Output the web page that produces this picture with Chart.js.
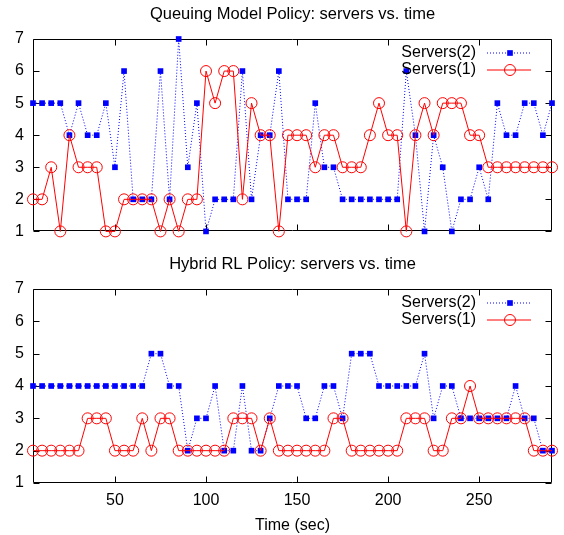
<!DOCTYPE html>
<html><head><meta charset="utf-8">
<script src="https://cdn.jsdelivr.net/npm/chart.js@4.4.0/dist/chart.umd.min.js"></script>
<style>html,body{margin:0;padding:0;background:#fff;} canvas{display:block;}</style>
</head><body>
<canvas id="c1" width="564" height="250"></canvas>
<canvas id="c2" width="564" height="285"></canvas>
<script>
const times = [5,10,15,20,25,30,35,40,45,50,55,60,65,70,75,80,85,90,95,100,
  105,110,115,120,125,130,135,140,145,150,155,160,165,170,175,180,185,190,195,200,
  205,210,215,220,225,230,235,240,245,250,255,260,265,270,275,280,285,290];
const queuingServers2 = [5,5,5,5,4,5,4,4,5,3, 6,2,2,2,6,2,7,3,5,1, 2,2,2,6,2,4,4,6,2,2,
  2,5,3,3,2,2,2,2,2,2, 2,6,4,1,4,3,1,2,2,3, 2,5,4,4,5,5,4,5];
const queuingServers1 = [2,2,3,1,4,3,3,3,1,1, 2,2,2,2,1,2,1,2,2,6, 5,6,6,2,5,4,4,1,4,4,
  4,3,4,4,3,3,3,4,5,4, 4,1,4,5,4,5,5,5,4,4, 3,3,3,3,3,3,3,3];
const hybridServers2 = [4,4,4,4,4,4,4,4,4,4, 4,4,4,5,5,4,4,2,3,3, 4,2,2,4,2,2,3,4,4,4,
  3,3,4,4,3,5,5,5,4,4, 4,4,4,5,3,4,4,3,3,3, 3,3,3,4,3,3,2,2];
const hybridServers1 = [2,2,2,2,2,2,3,3,3,2, 2,2,3,2,3,3,2,2,2,2, 2,2,3,3,3,2,3,2,2,2,
  2,2,2,3,3,2,2,2,2,2, 2,3,3,3,2,2,3,3,4,3, 3,3,3,3,3,2,2,2];
const xTickValues = [50,100,150,200,250];
const yTickValues = [1,2,3,4,5,6,7];
const seriesLabels = ['Servers(2)','Servers(1)'];
const chartTitles = ['Queuing Model Policy: servers vs. time','Hybrid RL Policy: servers vs. time'];
const xAxisTitle = 'Time (sec)';

const FONT = '"Liberation Sans", Arial, Helvetica, sans-serif';
Chart.defaults.font.family = FONT;
Chart.defaults.font.size = 16;
Chart.defaults.color = '#000';

const toXY = arr => arr.map((v,i)=>({x:times[i], y:v}));

const framePlugin = {
  id:'gpFrame',
  beforeDatasetsDraw(chart){
    const {ctx, chartArea:a, scales:{x,y}} = chart;
    const L=Math.round(a.left)+0.5, R=Math.round(a.right)-0.5, T=Math.round(a.top)+0.5, B=Math.round(a.bottom)-0.5;
    ctx.save();
    ctx.strokeStyle='#000'; ctx.lineWidth=1;
    ctx.beginPath();
    ctx.rect(L,T,R-L,B-T);
    const tl=6;
    xTickValues.forEach(v=>{
      const px=Math.round(x.getPixelForValue(v))+0.5;
      ctx.moveTo(px,B); ctx.lineTo(px,B-tl);
      ctx.moveTo(px,T); ctx.lineTo(px,T+tl);
    });
    yTickValues.forEach(v=>{
      const py=Math.round(y.getPixelForValue(v))+0.5;
      ctx.moveTo(L,py); ctx.lineTo(L+tl,py);
      ctx.moveTo(R,py); ctx.lineTo(R-tl,py);
    });
    ctx.stroke();
    ctx.restore();
  }
};

const legendTitlePlugin = {
  id:'gpLegend',
  afterDatasetsDraw(chart, args, opts){
    const {ctx, chartArea:a} = chart;
    ctx.save();
    ctx.fillStyle='#000';
    ctx.font = '16.5px '+FONT;
    ctx.textAlign='center'; ctx.textBaseline='middle';
    ctx.fillText(opts.title, (a.left+a.right)/2, a.top-24.5);
    ctx.font = '16px '+FONT;
    ctx.textAlign='right';
    chart.data.datasets.forEach((ds,k)=>{
      const yy = a.top + 14 + k*17;
      ctx.fillStyle='#000';
      ctx.fillText(ds.label, a.right-76, yy);
      ctx.strokeStyle=ds.borderColor; ctx.lineWidth=1;
      ctx.setLineDash(ds.borderDash||[]);
      ctx.beginPath(); ctx.moveTo(a.right-65,yy); ctx.lineTo(a.right-21,yy); ctx.stroke();
      ctx.setLineDash([]);
      ctx.fillStyle=ds.pointBackgroundColor; ctx.strokeStyle=ds.pointBorderColor;
      ctx.lineWidth=ds.pointBorderWidth;
      Chart.helpers.drawPoint(ctx,{pointStyle:ds.pointStyle, radius:ds.pointRadius, borderWidth:ds.pointBorderWidth, rotation:0}, a.right-42, yy);
    });
    ctx.restore();
  }
};

function makeChart(id, s2, s1, title, bottom){
  return new Chart(document.getElementById(id), {
    type:'line',
    data:{datasets:[
      {label:seriesLabels[0], data:toXY(s2), borderColor:'#0000ff', borderWidth:1, borderDash:[1,2],
       pointStyle:'rect', pointRadius:4, pointBackgroundColor:'#0000ff', pointBorderColor:'#0000ff', pointBorderWidth:0,
       tension:0, fill:false, clip:false, order:2},
      {label:seriesLabels[1], data:toXY(s1), borderColor:'#ff0000', borderWidth:1,
       pointStyle:'circle', pointRadius:5.5, pointBackgroundColor:'rgba(0,0,0,0)', pointBorderColor:'#ff0000', pointBorderWidth:1,
       tension:0, fill:false, clip:false, order:1}
    ]},
    options:{
      responsive:false, animation:false, devicePixelRatio:1,
      layout:{padding:{top:39, right:12, left:0, bottom: bottom?0:17}},
      plugins:{legend:{display:false}, tooltip:{enabled:false}, title:{display:false},
        gpLegend:{title:title}},
      elements:{point:{hoverRadius:0}},
      scales:{
        x:{type:'linear', min:5, max:290,
          afterBuildTicks:s=>{ s.ticks = xTickValues.map(v=>({value:v})); },
          afterFit:s=>{ s.height = bottom?52:0; },
          ticks:{display:bottom, padding:8, maxRotation:0, autoSkip:false, color:'#000', font:{size:16}},
          grid:{display:false, drawTicks:false}, border:{display:false},
          title:{display:bottom, text:xAxisTitle, color:'#000', font:{size:16}, padding:{top:0,bottom:0}}
        },
        y:{type:'linear', min:1, max:7,
          afterBuildTicks:s=>{ s.ticks = yTickValues.map(v=>({value:v})); },
          afterFit:s=>{ s.width = 33; },
          ticks:{padding:9, color:'#000', font:{size:16}},
          grid:{display:false, drawTicks:false}, border:{display:false}
        }
      }
    },
    plugins:[framePlugin, legendTitlePlugin]
  });
}
makeChart('c1', queuingServers2, queuingServers1, chartTitles[0], false);
makeChart('c2', hybridServers2, hybridServers1, chartTitles[1], true);
</script>
</body></html>
